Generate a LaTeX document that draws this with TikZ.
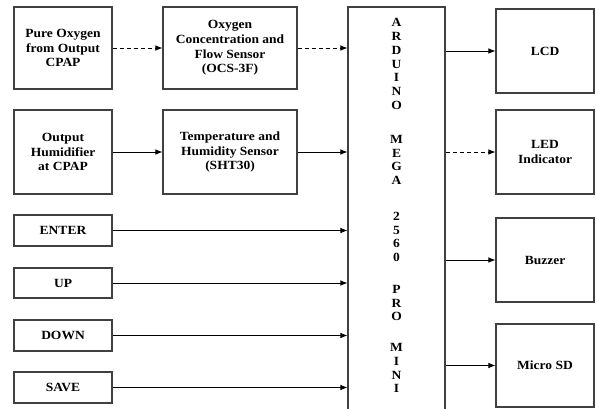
\documentclass[tikz,border=0pt]{standalone}
\usepackage{fontspec}
\setmainfont{Liberation Serif}[FakeStretch=1.08]
\usetikzlibrary{arrows.meta}
\begin{document}
\begin{tikzpicture}[x=1pt,y=-1pt,
  blk/.style={draw=black!75,line width=1.2pt,rectangle,align=center,inner sep=0pt,
    font=\fontsize{12.5}{14.6}\selectfont\bfseries},
  arr/.style={line width=0.7pt,-{Latex[length=7pt,width=5.5pt]}},
  dsh/.style={arr,dash pattern=on 4pt off 3pt},
  vert/.style={align=center,inner sep=0pt,font=\fontsize{12.5}{13.8}\selectfont\bfseries}]
\useasboundingbox (0,0) rectangle (596,408);
\node[blk,minimum width=98pt,minimum height=82pt] (po) at (63,48) {Pure Oxygen\\from Output\\CPAP};
\node[blk,minimum width=134pt,minimum height=82pt] (ocs) at (230,48) {Oxygen\\Concentration and\\Flow Sensor\\(OCS-3F)};
\node[blk,minimum width=98pt,minimum height=84pt] (hum) at (63,152) {Output\\Humidifier\\at CPAP};
\node[blk,minimum width=134pt,minimum height=84pt] (sht) at (230,152) {Temperature and\\Humidity Sensor\\(SHT30)};
\node[blk,minimum width=97pt,minimum height=413pt] (ard) at (396.5,213.5) {};
\node[vert] (t1) at (396.5,64) {A\\R\\D\\U\\I\\N\\O};
\node[vert] (t2) at (396.5,160) {M\\E\\G\\A};
\node[vert] (t3) at (396.5,237) {2\\5\\6\\0};
\node[vert] (t4) at (396.5,303) {P\\R\\O};
\node[vert] (t5) at (396.5,368) {M\\I\\N\\I};
\node[blk,minimum width=98pt,minimum height=84pt] (lcd) at (545,51) {LCD};
\node[blk,minimum width=98pt,minimum height=84pt] (led) at (545,152) {LED\\Indicator};
\node[blk,minimum width=98pt,minimum height=84pt] (buz) at (545,260) {Buzzer};
\node[blk,minimum width=98pt,minimum height=83pt] (sd) at (545,365.5) {Micro SD};
\node[blk,minimum width=98pt,minimum height=31pt] (enter) at (63,230.5) {ENTER};
\node[blk,minimum width=98pt,minimum height=30pt] (up) at (63,283) {UP};
\node[blk,minimum width=98pt,minimum height=31pt] (down) at (63,335.5) {DOWN};
\node[blk,minimum width=98pt,minimum height=31pt] (save) at (63,387.5) {SAVE};
\draw[dsh] (po.east) -- (ocs.west);
\draw[dsh] (ocs.east) -- (ocs.east -| ard.west);
\draw[arr] (hum.east) -- (sht.west);
\draw[arr] (sht.east) -- (sht.east -| ard.west);
\draw[arr] (enter.east) -- (enter.east -| ard.west);
\draw[arr] (up.east) -- (up.east -| ard.west);
\draw[arr] (down.east) -- (down.east -| ard.west);
\draw[arr] (save.east) -- (save.east -| ard.west);
\draw[arr] (lcd.west -| ard.east) -- (lcd.west);
\draw[dsh] (led.west -| ard.east) -- (led.west);
\draw[arr] (buz.west -| ard.east) -- (buz.west);
\draw[arr] (sd.west -| ard.east) -- (sd.west);
\end{tikzpicture}
\end{document}
